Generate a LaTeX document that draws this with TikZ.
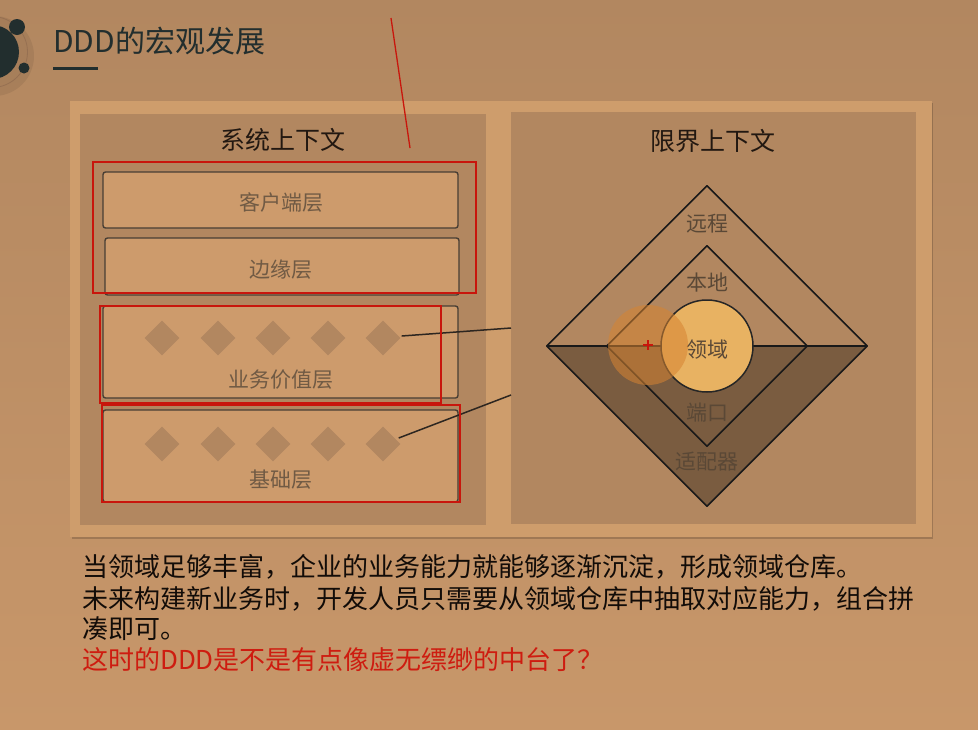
\documentclass[tikz,border=0pt]{standalone}
\usepackage{fontspec}
\setmainfont{Noto Sans CJK SC}
\usetikzlibrary{shapes.geometric,calc}

\definecolor{bgtop}{RGB}{178,135,96}
\definecolor{bgbot}{RGB}{200,151,106}
\definecolor{panel}{RGB}{206,157,108}
\definecolor{innerpanel}{RGB}{178,135,96}
\definecolor{layerfill}{RGB}{205,155,108}
\definecolor{layerline}{RGB}{72,62,52}
\definecolor{ink}{RGB}{34,46,46}
\definecolor{ringline}{RGB}{150,112,82}
\definecolor{darkhalf}{RGB}{122,92,64}
\definecolor{corefill}{RGB}{232,178,98}
\definecolor{hotspot}{RGB}{214,132,50}
\definecolor{marker}{RGB}{200,22,12}
\definecolor{softtext}{RGB}{112,90,68}
\definecolor{bodytext}{RGB}{18,12,8}
\definecolor{redtext}{RGB}{206,28,16}
\definecolor{connline}{RGB}{45,38,32}

\tikzset{
  layerbox/.style={draw=layerline, line width=1.4pt, fill=layerfill,
    rounded corners=2.5pt, minimum width=355pt, inner sep=0pt},
  layerlabel/.style={font=\fontsize{21}{21}\selectfont, text=softtext, inner sep=0pt},
  gem/.style={diamond, fill=innerpanel, minimum size=35pt, inner sep=0pt},
  paneltitle/.style={font=\fontsize{25}{25}\selectfont, text=bodytext!90!innerpanel, inner sep=0pt},
  ringlabel/.style={font=\fontsize{21}{21}\selectfont, text=softtext!80!black, inner sep=0pt},
  ringedge/.style={draw=black!90, line width=1.6pt, line join=round},
  conn/.style={draw=connline, line width=1.5pt},
  redbox/.style={draw=marker, line width=1.8pt},
  bodyline/.style={anchor=west, font=\fontsize{26}{26}\selectfont, text=bodytext, inner sep=0pt},
}

\begin{document}
\begin{tikzpicture}[x=1pt,y=-1pt]
\useasboundingbox (0,0) rectangle (978,729);

% page background
\shade[top color=bgtop, bottom color=bgbot] (0,0) rectangle (978,729);

% corner ornament
\fill[black, opacity=0.07] (-6,56) circle (40);
\draw[ringline, line width=0.8pt] (-8,52) circle (35.5);
\fill[ink] (-8,52) circle (27);
\fill[ink] (17,27) circle (8);
\fill[ink] (24,68) circle (5.5);

% heading
\node[anchor=west, font=\fontsize{30}{30}\selectfont, text=ink, inner sep=0pt] (title) at (53,41) {DDD的宏观发展};
\draw[ink, line width=3pt] (53,68) -- (98,68);

% outer board
\fill[black, opacity=0.18] (72,103) rectangle (933,539);
\fill[panel] (70,101) rectangle (932,537);

% two context panels
\fill[innerpanel] (80,114) rectangle (486,525);
\fill[innerpanel] (511,112) rectangle (916,524);

\node[paneltitle] (systitle) at (283,140) {系统上下文};
\node[paneltitle] (bctitle) at (713,141) {限界上下文};

% layer boxes of the system context
\node[layerbox, minimum height=56pt] (client) at (280.5,200) {};
\node[layerbox, minimum height=57pt, minimum width=354pt] (edge) at (282,266.5) {};
\node[layerbox, minimum height=92pt] (value) at (280.5,352) {};
\node[layerbox, minimum height=92pt] (base) at (280.5,456) {};

\node[layerlabel] (clientlbl) at (281,203) {客户端层};
\node[layerlabel] (edgelbl) at (281,270) {边缘层};
\node[layerlabel] (valuelbl) at (281,380) {业务价值层};
\node[layerlabel] (baselbl) at (281,480) {基础层};

% capability gems inside the value and base layers
\foreach \i/\x in {1/162,2/218,3/273,4/328,5/383} {
  \node[gem] (v\i) at (\x,338) {};
  \node[gem] (b\i) at (\x,444) {};
}

% rings of the bounded context
\node[diamond, minimum size=320pt, inner sep=0pt] (outer) at (707,346) {};
\node[diamond, minimum size=200pt, inner sep=0pt] (inner) at (707,346) {};
\fill[darkhalf] (outer.west) -- (outer.east) -- (outer.south) -- cycle;
\draw[ringedge] (outer.north) -- (outer.east) -- (outer.south) -- (outer.west) -- cycle;
\draw[ringedge] (inner.north) -- (inner.east) -- (inner.south) -- (inner.west) -- cycle;
\draw[ringedge] (outer.west) -- (outer.east);

\node[circle, draw=black!85, line width=1.5pt, fill=corefill, minimum size=92pt, inner sep=0pt] (core) at (707,346) {};
\node[ringlabel] (corelbl) at (707,350) {领域};

% highlight spot
\fill[hotspot, opacity=0.55] (648,345) circle (40);
\draw[marker, line width=1.2pt] (643,345) -- (653,345) (648,340) -- (648,350);

\node[ringlabel] (remote) at (707,224) {远程};
\node[ringlabel] (local) at (707,283) {本地};
\node[ringlabel] (port) at (707,413) {端口};
\node[ringlabel] (adapter) at (707,462) {适配器};

% links from the layers into the bounded context
\coordinate (linkA) at (511,328);
\coordinate (linkB) at (511,395);
\draw[conn] ($(v5.east)+(1,-2)$) -- (linkA);
\draw[conn] ($(b5.east)+(-2,-6)$) -- (linkB);

% red annotations
\coordinate (penTop) at (391,18);
\coordinate (penEnd) at (410,148);
\draw[marker, line width=1.3pt] (penTop) -- (penEnd);
\draw[redbox] (93,162) rectangle (476,293);
\draw[redbox] (100,306) rectangle (441,403);
\draw[redbox] (102,405) rectangle (460,502);

% caption text
\node[bodyline] (body1) at (82,567) {当领域足够丰富，企业的业务能力就能够逐渐沉淀，形成领域仓库。};
\node[bodyline] (body2) at (82,599) {未来构建新业务时，开发人员只需要从领域仓库中抽取对应能力，组合拼};
\node[bodyline] (body3) at (82,629) {凑即可。};
\node[bodyline, text=redtext] (body4) at (82,660) {这时的DDD是不是有点像虚无缥缈的中台了？};

\end{tikzpicture}
\end{document}
